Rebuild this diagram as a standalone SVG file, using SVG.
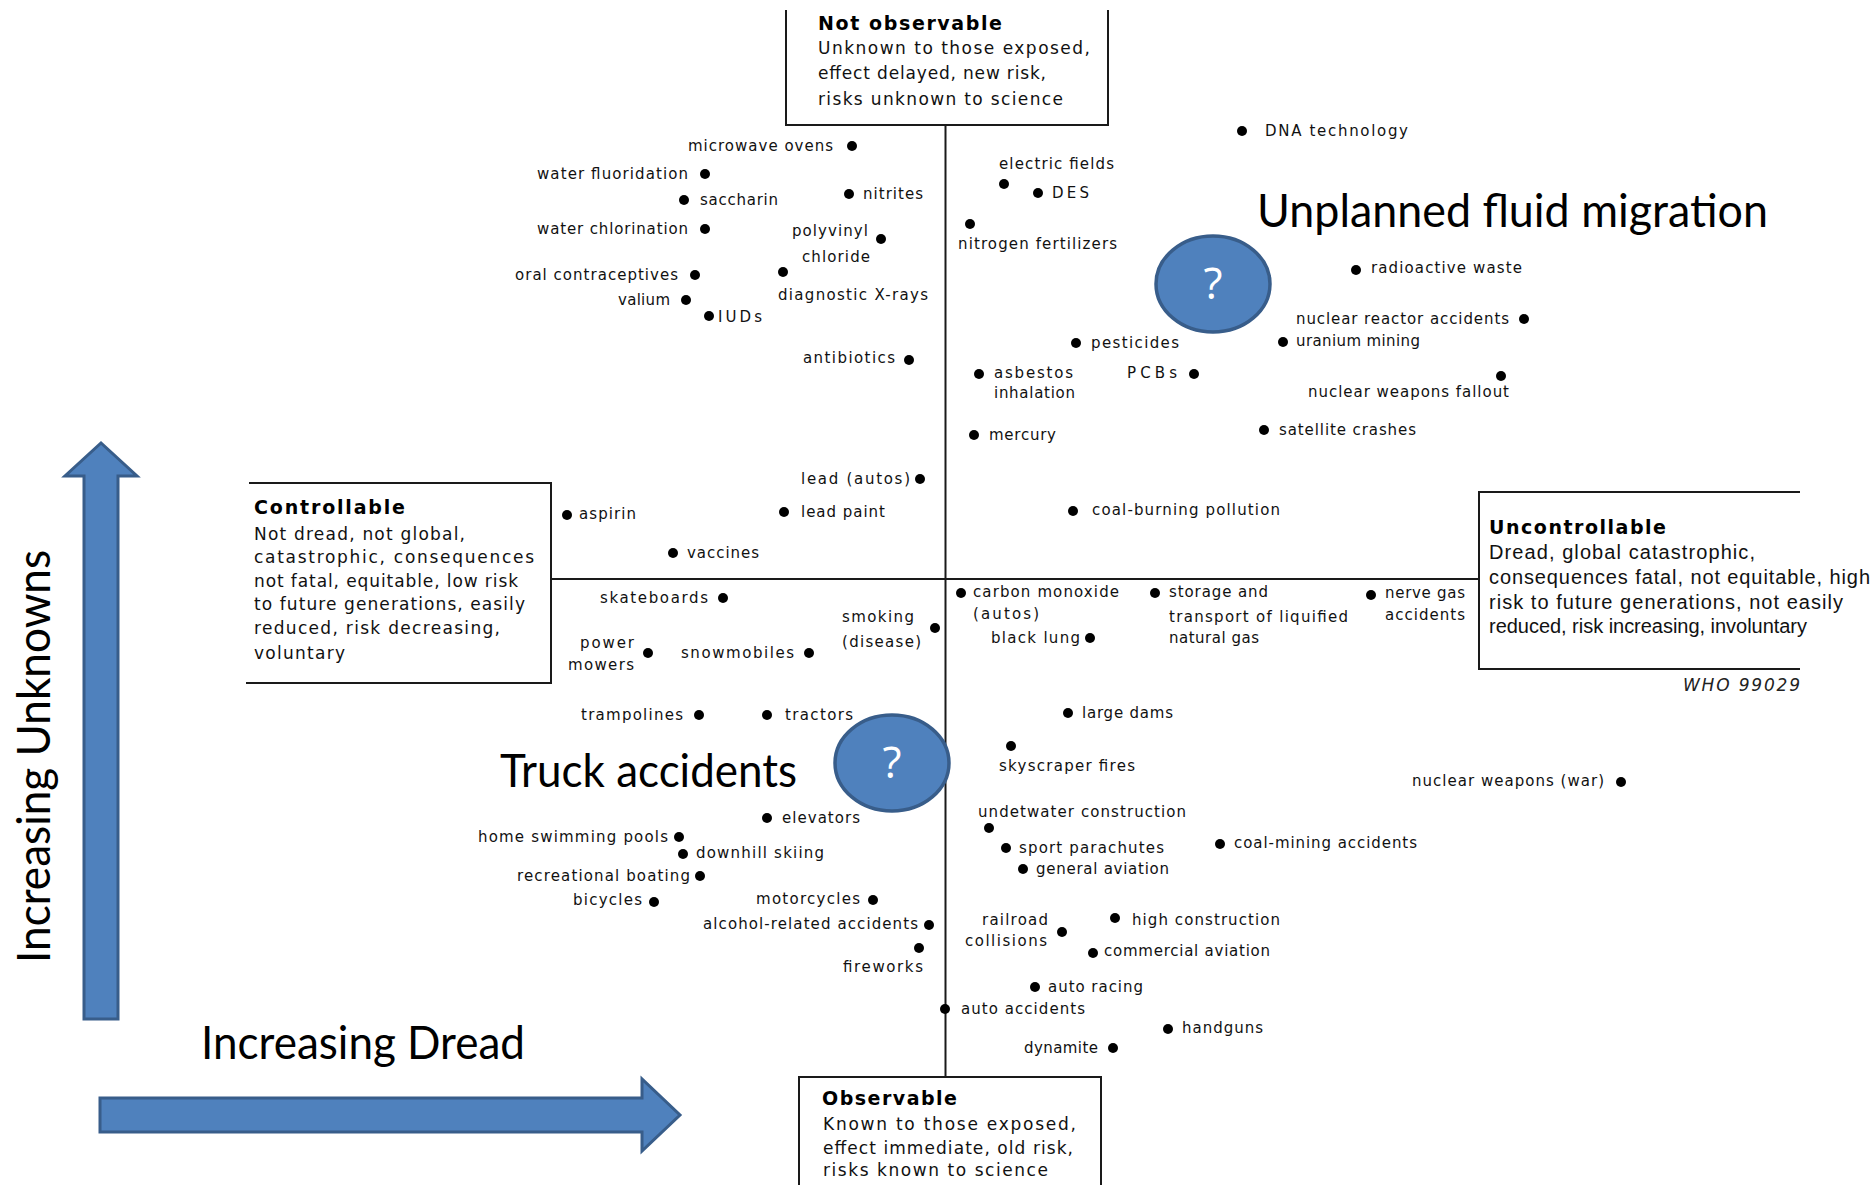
<svg xmlns="http://www.w3.org/2000/svg" width="1876" height="1185" viewBox="0 0 1876 1185">
<defs>
<style>
.lbl{font-family:"DejaVu Sans",Verdana,sans-serif;font-size:15px;fill:#111}
.dot{fill:#000}
.box{fill:none;stroke:#1a1a1a;stroke-width:2}
.ax{stroke:#1a1a1a;stroke-width:2;fill:none}
.bt{font-family:"DejaVu Sans",Verdana,sans-serif;font-size:17px;fill:#111}
.rt{font-family:"Liberation Sans",Arial,sans-serif;font-size:20px;fill:#111}
.bh{font-family:"DejaVu Sans",Verdana,sans-serif;font-weight:bold;font-size:19px;fill:#000}
.big{font-family:Lato,"Open Sans",sans-serif;font-size:46px;fill:#000}
.bub{fill:#4F81BD;stroke:#385D8A;stroke-width:3.5}
.q{font-family:"Open Sans",Lato,sans-serif;font-size:44px;fill:#fff;text-anchor:middle}
.arw{fill:#4F81BD;stroke:#385D8A;stroke-width:3}
.who{font-family:"DejaVu Sans",sans-serif;font-size:17px;font-style:italic;fill:#222}
</style>
</defs>
<rect width="1876" height="1185" fill="#fff"/>

<g id="connectors">
<line class="ax" x1="945.5" y1="125" x2="945.5" y2="1077"/>
<line class="ax" x1="551" y1="579" x2="1479" y2="579"/>
</g>

<g id="box-not-observable">
<path class="box" d="M786,10 V125 H1108 V10"/>
<text class="bh" x="818" y="30" textLength="184">Not observable</text>
<text class="bt" x="818" y="54" textLength="272">Unknown to those exposed,</text>
<text class="bt" x="818" y="79" textLength="228">effect delayed, new risk,</text>
<text class="bt" x="818" y="105" textLength="245">risks unknown to science</text>
</g>

<g id="box-observable">
<path class="box" d="M799,1186 V1077 H1101 V1186"/>
<text class="bh" x="822" y="1105" textLength="135">Observable</text>
<text class="bt" x="823" y="1130" textLength="253">Known to those exposed,</text>
<text class="bt" x="823" y="1154" textLength="250">effect immediate, old risk,</text>
<text class="bt" x="823" y="1176" textLength="225">risks known to science</text>
</g>

<g id="box-controllable">
<path class="box" d="M249,483 H551 V683 H246"/>
<text class="bh" x="254" y="514" textLength="151">Controllable</text>
<text class="bt" x="254" y="540" textLength="211">Not dread, not global,</text>
<text class="bt" x="254" y="563" textLength="280">catastrophic, consequences</text>
<text class="bt" x="254" y="587" textLength="264">not fatal, equitable, low risk</text>
<text class="bt" x="254" y="610" textLength="271">to future generations, easily</text>
<text class="bt" x="254" y="634" textLength="246">reduced, risk decreasing,</text>
<text class="bt" x="254" y="659" textLength="91">voluntary</text>
</g>

<g id="box-uncontrollable">
<path class="box" d="M1800,492 H1479 V669 H1800"/>
<text class="bh" x="1489" y="534" textLength="177">Uncontrollable</text>
<text class="rt" x="1489" y="559" textLength="266">Dread, global catastrophic,</text>
<text class="rt" x="1489" y="584" textLength="381">consequences fatal, not equitable, high</text>
<text class="rt" x="1489" y="609" textLength="354">risk to future generations, not easily</text>
<text class="rt" x="1489" y="633" textLength="318">reduced, risk increasing, involuntary</text>
</g>

<g id="who-ref"><text class="who" x="1683" y="691" textLength="117">WHO 99029</text></g>

<g id="n-microwave-ovens"><circle class="dot" cx="852" cy="146" r="5"/><text class="lbl" x="688" y="151" textLength="145">microwave ovens</text></g>
<g id="n-water-fluoridation"><circle class="dot" cx="705" cy="174" r="5"/><text class="lbl" x="537" y="179" textLength="151">water fluoridation</text></g>
<g id="n-saccharin"><circle class="dot" cx="684" cy="200" r="5"/><text class="lbl" x="700" y="205" textLength="78">saccharin</text></g>
<g id="n-nitrites"><circle class="dot" cx="849" cy="194" r="5"/><text class="lbl" x="863" y="199" textLength="60">nitrites</text></g>
<g id="n-water-chlorination"><circle class="dot" cx="705" cy="229" r="5"/><text class="lbl" x="537" y="234" textLength="151">water chlorination</text></g>
<g id="n-polyvinyl-chloride"><circle class="dot" cx="881" cy="239" r="5"/><text class="lbl" x="792" y="236" textLength="76">polyvinyl</text><text class="lbl" x="802" y="262" textLength="68">chloride</text></g>
<g id="n-oral-contraceptives"><circle class="dot" cx="695" cy="275" r="5"/><text class="lbl" x="515" y="280" textLength="163">oral contraceptives</text></g>
<g id="n-diagnostic-x-rays"><circle class="dot" cx="783" cy="272" r="5"/><text class="lbl" x="778" y="300" textLength="150">diagnostic X-rays</text></g>
<g id="n-valium"><circle class="dot" cx="686" cy="300" r="5"/><text class="lbl" x="618" y="305" textLength="52">valium</text></g>
<g id="n-iuds"><circle class="dot" cx="709" cy="316" r="5"/><text class="lbl" x="718" y="322" textLength="44">IUDs</text></g>
<g id="n-antibiotics"><circle class="dot" cx="909" cy="360" r="5"/><text class="lbl" x="803" y="363" textLength="92">antibiotics</text></g>

<g id="n-dna-technology"><circle class="dot" cx="1242" cy="131" r="5"/><text class="lbl" x="1265" y="136" textLength="143">DNA technology</text></g>
<g id="n-electric-fields"><circle class="dot" cx="1004" cy="184" r="5"/><text class="lbl" x="999" y="169" textLength="115">electric fields</text></g>
<g id="n-des"><circle class="dot" cx="1038" cy="193" r="5"/><text class="lbl" x="1052" y="198" textLength="37">DES</text></g>
<g id="n-nitrogen-fertilizers"><circle class="dot" cx="970" cy="224" r="5"/><text class="lbl" x="958" y="249" textLength="159">nitrogen fertilizers</text></g>
<g id="n-radioactive-waste"><circle class="dot" cx="1356" cy="270" r="5"/><text class="lbl" x="1371" y="273" textLength="151">radioactive waste</text></g>
<g id="n-nuclear-reactor-accidents"><circle class="dot" cx="1524" cy="319" r="5"/><text class="lbl" x="1296" y="324" textLength="213">nuclear reactor accidents</text></g>
<g id="n-uranium-mining"><circle class="dot" cx="1283" cy="342" r="5"/><text class="lbl" x="1296" y="346" textLength="124">uranium mining</text></g>
<g id="n-pesticides"><circle class="dot" cx="1076" cy="343" r="5"/><text class="lbl" x="1091" y="348" textLength="88">pesticides</text></g>
<g id="n-asbestos-inhalation"><circle class="dot" cx="979" cy="374" r="5"/><text class="lbl" x="994" y="378" textLength="79">asbestos</text><text class="lbl" x="994" y="398" textLength="81">inhalation</text></g>
<g id="n-pcbs"><circle class="dot" cx="1194" cy="374" r="5"/><text class="lbl" x="1127" y="378" textLength="50">PCBs</text></g>
<g id="n-nuclear-weapons-fallout"><circle class="dot" cx="1501" cy="376" r="5"/><text class="lbl" x="1308" y="397" textLength="201">nuclear weapons fallout</text></g>
<g id="n-satellite-crashes"><circle class="dot" cx="1264" cy="430" r="5"/><text class="lbl" x="1279" y="435" textLength="137">satellite crashes</text></g>
<g id="n-mercury"><circle class="dot" cx="974" cy="435" r="5"/><text class="lbl" x="989" y="440" textLength="67">mercury</text></g>
<g id="n-lead-autos"><circle class="dot" cx="920" cy="479" r="5"/><text class="lbl" x="801" y="484" textLength="109">lead (autos)</text></g>
<g id="n-lead-paint"><circle class="dot" cx="784" cy="512" r="5"/><text class="lbl" x="801" y="517" textLength="84">lead paint</text></g>
<g id="n-coal-burning-pollution"><circle class="dot" cx="1073" cy="511" r="5"/><text class="lbl" x="1092" y="515" textLength="188">coal-burning pollution</text></g>
<g id="n-aspirin"><circle class="dot" cx="567" cy="515" r="5"/><text class="lbl" x="579" y="519" textLength="57">aspirin</text></g>
<g id="n-vaccines"><circle class="dot" cx="673" cy="553" r="5"/><text class="lbl" x="687" y="558" textLength="72">vaccines</text></g>

<g id="n-skateboards"><circle class="dot" cx="723" cy="598" r="5"/><text class="lbl" x="600" y="603" textLength="108">skateboards</text></g>
<g id="n-smoking-disease"><circle class="dot" cx="935" cy="628" r="5"/><text class="lbl" x="842" y="622" textLength="72">smoking</text><text class="lbl" x="842" y="647" textLength="79">(disease)</text></g>
<g id="n-power-mowers"><circle class="dot" cx="648" cy="653" r="5"/><text class="lbl" x="580" y="648" textLength="54">power</text><text class="lbl" x="568" y="670" textLength="66">mowers</text></g>
<g id="n-snowmobiles"><circle class="dot" cx="809" cy="653" r="5"/><text class="lbl" x="681" y="658" textLength="113">snowmobiles</text></g>
<g id="n-trampolines"><circle class="dot" cx="699" cy="715" r="5"/><text class="lbl" x="581" y="720" textLength="102">trampolines</text></g>
<g id="n-tractors"><circle class="dot" cx="767" cy="715" r="5"/><text class="lbl" x="785" y="720" textLength="68">tractors</text></g>
<g id="n-elevators"><circle class="dot" cx="767" cy="818" r="5"/><text class="lbl" x="782" y="823" textLength="78">elevators</text></g>
<g id="n-home-swimming-pools"><circle class="dot" cx="679" cy="837" r="5"/><text class="lbl" x="478" y="842" textLength="190">home swimming pools</text></g>
<g id="n-downhill-skiing"><circle class="dot" cx="683" cy="854" r="5"/><text class="lbl" x="696" y="858" textLength="128">downhill  skiing</text></g>
<g id="n-recreational-boating"><circle class="dot" cx="700" cy="876" r="5"/><text class="lbl" x="517" y="881" textLength="173">recreational boating</text></g>
<g id="n-bicycles"><circle class="dot" cx="654" cy="902" r="5"/><text class="lbl" x="573" y="905" textLength="69">bicycles</text></g>
<g id="n-motorcycles"><circle class="dot" cx="873" cy="900" r="5"/><text class="lbl" x="756" y="904" textLength="104">motorcycles</text></g>
<g id="n-alcohol-related-accidents"><circle class="dot" cx="929" cy="925" r="5"/><text class="lbl" x="703" y="929" textLength="215">alcohol-related accidents</text></g>
<g id="n-fireworks"><circle class="dot" cx="919" cy="948" r="5"/><text class="lbl" x="843" y="972" textLength="80">fireworks</text></g>

<g id="n-carbon-monoxide"><circle class="dot" cx="961" cy="593" r="5"/><text class="lbl" x="973" y="597" textLength="146">carbon monoxide</text><text class="lbl" x="973" y="619" textLength="66">(autos)</text></g>
<g id="n-black-lung"><circle class="dot" cx="1090" cy="638" r="5"/><text class="lbl" x="991" y="643" textLength="89">black lung</text></g>
<g id="n-lng"><circle class="dot" cx="1155" cy="593" r="5"/><text class="lbl" x="1169" y="597" textLength="99">storage and</text><text class="lbl" x="1169" y="622" textLength="179">transport of liquified</text><text class="lbl" x="1169" y="643" textLength="90">natural gas</text></g>
<g id="n-nerve-gas"><circle class="dot" cx="1371" cy="595" r="5"/><text class="lbl" x="1385" y="598" textLength="80">nerve gas</text><text class="lbl" x="1385" y="620" textLength="80">accidents</text></g>
<g id="n-large-dams"><circle class="dot" cx="1068" cy="713" r="5"/><text class="lbl" x="1082" y="718" textLength="91">large dams</text></g>
<g id="n-skyscraper-fires"><circle class="dot" cx="1011" cy="746" r="5"/><text class="lbl" x="999" y="771" textLength="136">skyscraper fires</text></g>
<g id="n-nuclear-weapons-war"><circle class="dot" cx="1621" cy="782" r="5"/><text class="lbl" x="1412" y="786" textLength="192">nuclear weapons (war)</text></g>
<g id="n-underwater-construction"><circle class="dot" cx="989" cy="828" r="5"/><text class="lbl" x="978" y="817" textLength="208">undetwater construction</text></g>
<g id="n-sport-parachutes"><circle class="dot" cx="1006" cy="848" r="5"/><text class="lbl" x="1019" y="853" textLength="145">sport parachutes</text></g>
<g id="n-general-aviation"><circle class="dot" cx="1023" cy="869" r="5"/><text class="lbl" x="1036" y="874" textLength="133">general aviation</text></g>
<g id="n-coal-mining-accidents"><circle class="dot" cx="1220" cy="844" r="5"/><text class="lbl" x="1234" y="848" textLength="183">coal-mining accidents</text></g>
<g id="n-railroad-collisions"><circle class="dot" cx="1062" cy="932" r="5"/><text class="lbl" x="982" y="925" textLength="66">railroad</text><text class="lbl" x="965" y="946" textLength="82">collisions</text></g>
<g id="n-high-construction"><circle class="dot" cx="1115" cy="918" r="5"/><text class="lbl" x="1132" y="925" textLength="148">high construction</text></g>
<g id="n-commercial-aviation"><circle class="dot" cx="1093" cy="953" r="5"/><text class="lbl" x="1104" y="956" textLength="166">commercial aviation</text></g>
<g id="n-auto-racing"><circle class="dot" cx="1035" cy="987" r="5"/><text class="lbl" x="1048" y="992" textLength="95">auto racing</text></g>
<g id="n-auto-accidents"><circle class="dot" cx="945" cy="1009" r="5"/><text class="lbl" x="961" y="1014" textLength="124">auto accidents</text></g>
<g id="n-handguns"><circle class="dot" cx="1168" cy="1029" r="5"/><text class="lbl" x="1182" y="1033" textLength="81">handguns</text></g>
<g id="n-dynamite"><circle class="dot" cx="1113" cy="1048" r="5"/><text class="lbl" x="1024" y="1053" textLength="74">dynamite</text></g>

<g id="bubble-fluid"><ellipse class="bub" cx="1213" cy="284" rx="57" ry="48"/><text class="q" x="1213" y="299">?</text></g>
<g id="bubble-truck"><ellipse class="bub" cx="892" cy="763" rx="57" ry="48"/><text class="q" x="892" y="778">?</text></g>

<g id="label-unplanned"><text class="big" x="1257" y="227" textLength="511" lengthAdjust="spacingAndGlyphs">Unplanned fluid migration</text></g>
<g id="label-truck"><text class="big" x="500" y="787" textLength="297" lengthAdjust="spacingAndGlyphs">Truck accidents</text></g>

<g id="arrow-unknowns">
<polygon class="arw" points="84,1019 118,1019 118,476 137,476 101,443 65,476 84,476"/>
<text class="big" transform="translate(50,963) rotate(-90)" x="0" y="0" textLength="413" lengthAdjust="spacingAndGlyphs">Increasing Unknowns</text>
</g>
<g id="arrow-dread">
<polygon class="arw" points="100,1098 642,1098 642,1079 680,1115 642,1151 642,1132 100,1132"/>
<text class="big" x="201" y="1059" textLength="324" lengthAdjust="spacingAndGlyphs">Increasing Dread</text>
</g>
</svg>
